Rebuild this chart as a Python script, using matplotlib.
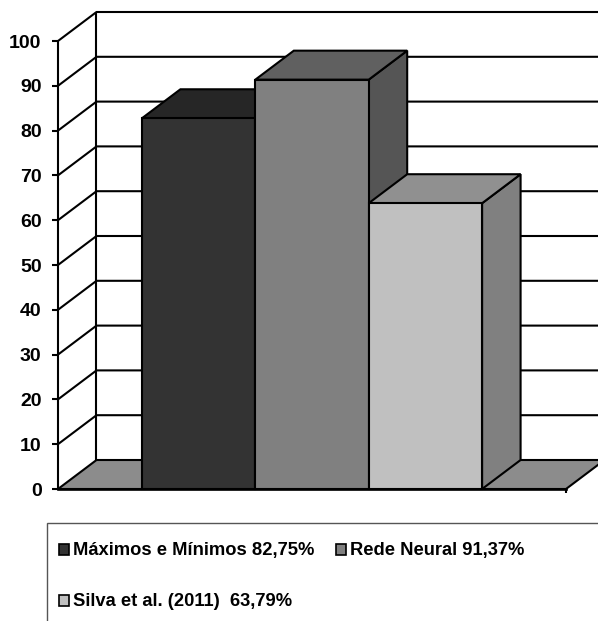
import matplotlib
matplotlib.use("Agg")
import matplotlib.pyplot as plt
from matplotlib.patches import Polygon, Rectangle

plt.rcParams['font.family'] = ['Liberation Sans', 'DejaVu Sans']

# Accuracy per method
methods = ["Máximos e Mínimos 82,75%", "Rede Neural 91,37%", "Silva et al. (2011)  63,79%"]
values = [82.75, 91.37, 63.79]
ticks = [0, 10, 20, 30, 40, 50, 60, 70, 80, 90, 100]

front_colors = ["#333333", "#808080", "#c0c0c0"]
top_colors = ["#262626", "#606060", "#909090"]
side_colors = ["#1f1f1f", "#555555", "#808080"]
floor_color = "#8c8c8c"

W, H = 598, 621
fig = plt.figure(figsize=(W / 100, H / 100), dpi=100, facecolor="white")

# Axes box spans the front plane of the 3D frame
left, right, y0, y100 = 58, 566, 489, 41
ax = fig.add_axes([left / W, 1 - y0 / H, (right - left) / W, (y0 - y100) / H])
ax.set_xlim(-1.24, 3.24)
ax.set_ylim(0, 100)
ax.axis("off")

# Depth of the oblique projection, in data units
dx = 38.5 / ((right - left) / 4.48)
dy = 29 / 4.48
xmin, xmax = -1.24, 3.24
lw = 1.5
line = dict(color="black", lw=lw, clip_on=False, solid_capstyle="butt", zorder=2)

# Floor and walls
ax.add_patch(Polygon([(xmin, 0), (xmin + dx, dy), (xmax + dx, dy), (xmax, 0)],
                     closed=True, fc=floor_color, ec="black", lw=lw, clip_on=False, zorder=1))
for t in ticks[1:]:
    ax.plot([xmin, xmin + dx, xmax + dx], [t, t + dy, t + dy], **line)
ax.plot([xmin + dx, xmin + dx], [dy, 100 + dy], **line)
ax.plot([xmin, xmin], [0, 100], **line)

# Tick marks and labels
for t in ticks:
    ax.plot([xmin - 0.05, xmin], [t, t], **line)
    ax.text(xmin - 0.145, t, str(t), ha="right", va="center_baseline", fontsize=14.0,
            fontweight="bold", color="#000000", zorder=5)
ax.plot([xmax, xmax], [0, -1], **line)

# Extruded bars, painted left to right so nearer faces overlap correctly
for i, v in enumerate(values):
    x0, x1 = i - 0.5, i + 0.5
    common = dict(closed=True, ec="black", lw=lw, clip_on=False, zorder=3, joinstyle="miter")
    ax.add_patch(Polygon([(x1, 0), (x1 + dx, dy), (x1 + dx, v + dy), (x1, v)],
                         fc=side_colors[i], **common))
    ax.add_patch(Polygon([(x0, v), (x0 + dx, v + dy), (x1 + dx, v + dy), (x1, v)],
                         fc=top_colors[i], **common))
    ax.add_patch(Polygon([(x0, 0), (x0, v), (x1, v), (x1, 0)],
                         fc=front_colors[i], **common))

ax.plot([xmin, xmax], [0, 0], color="black", lw=lw + 0.4, clip_on=False, zorder=4)


def fx(px):
    return px / W


def fy(py):
    return 1 - py / H


# Legend frame runs past the right and bottom edges
fig.add_artist(Rectangle((fx(47), fy(640)), fx(600), fy(523) - fy(640),
                         transform=fig.transFigure, fc="white", ec="#555555", lw=1.0))
legend_pos = [(59, 549), (336, 549), (59, 600)]
for (px, py), label, color in zip(legend_pos, methods, front_colors):
    fig.add_artist(Rectangle((fx(px), fy(py + 5.5)), 10 / W, 11 / H, transform=fig.transFigure,
                             fc=color, ec="black", lw=1.2))
    fig.text(fx(px + 14), fy(py), label, ha="left", va="center_baseline", fontsize=13.2,
             fontweight="bold", color="#000000")

fig.savefig("out.png", dpi=100, facecolor="white")
